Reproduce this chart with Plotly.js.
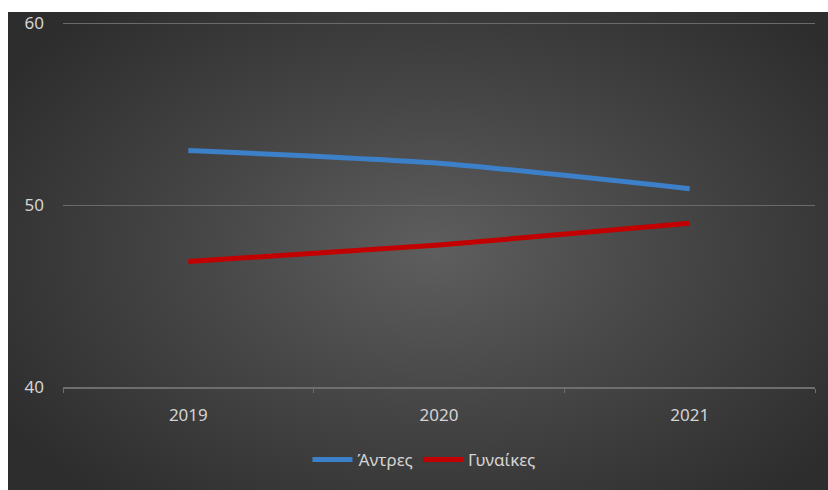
<!DOCTYPE html>
<html>
<head>
<meta charset="utf-8">
<script src="https://cdn.plot.ly/plotly-3.0.1.min.js"></script>
<style>
  html, body { margin: 0; padding: 0; background: #ffffff; width: 828px; height: 490px; overflow: hidden; }
  #bg { position: absolute; left: 8px; top: 12px; width: 820px; height: 478px;
        background: radial-gradient(ellipse 62% 68% at 52% 50%, #5e5e5e 0%, #474747 45%, #2d2d2d 100%); }
  #chart { position: absolute; left: 0; top: 0; width: 828px; height: 490px; }
</style>
</head>
<body>
<div id="bg"></div>
<div id="chart"></div>
<script>
const years = ['2019', '2020', '2021'];
const men = [53.0, 52.3, 50.9];
const women = [46.9, 47.8, 49.0];
const seriesNames = ['Άντρες', 'Γυναίκες'];
const yTicks = [40, 50, 60];

const fam = 'Noto Sans, Open Sans, sans-serif';
const txt = { family: fam, size: 17, color: '#d4d4d4' };

const traces = [
  { x: years, y: men, name: seriesNames[0], type: 'scatter', mode: 'lines',
    line: { color: '#3c80c9', width: 5, shape: 'spline', smoothing: 0.6 } },
  { x: years, y: women, name: seriesNames[1], type: 'scatter', mode: 'lines',
    line: { color: '#c30000', width: 5, shape: 'spline', smoothing: 0.6 } }
];

const layout = {
  width: 828, height: 490,
  margin: { l: 63, r: 13, t: 22, b: 96 },
  paper_bgcolor: 'rgba(0,0,0,0)',
  plot_bgcolor: 'rgba(0,0,0,0)',
  font: txt,
  showlegend: true,
  legend: { orientation: 'h', x: 0.48, xanchor: 'center', y: -0.2, yanchor: 'middle',
            font: txt, itemwidth: 40, bgcolor: 'rgba(0,0,0,0)' },
  xaxis: {
    type: 'category', range: [-0.5, 2.5],
    showgrid: false, zeroline: false,
    showline: true, linecolor: '#6e6e6e', linewidth: 1.5,
    ticks: 'outside', tickson: 'boundaries', ticklen: 4, tickcolor: '#6e6e6e',
    ticklabelstandoff: 12,
    tickfont: txt
  },
  yaxis: {
    range: [40, 60.06], tickvals: yTicks, ticktext: yTicks.map(String),
    showgrid: true, gridcolor: '#6a6a6a', gridwidth: 1,
    zeroline: false, showline: false,
    ticks: '', ticklabelstandoff: 18,
    tickfont: txt
  }
};

Plotly.newPlot('chart', traces, layout, { displayModeBar: false, staticPlot: true });
</script>
</body>
</html>
